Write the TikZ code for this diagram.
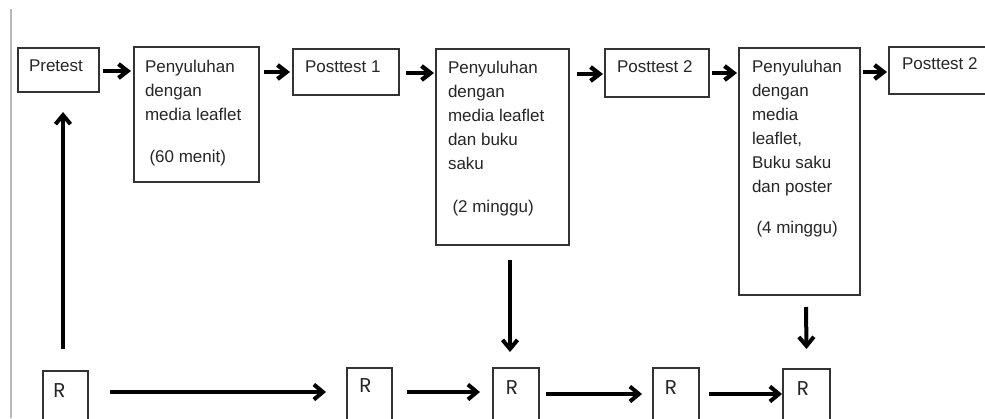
\documentclass[tikz,border=0pt]{standalone}
\usepackage{fontspec}
\setmainfont{Liberation Sans}
\newfontfamily\rfont{Poppins}
\usetikzlibrary{arrows.meta,calc}
\begin{document}
\begin{tikzpicture}[x=1pt,y=-1pt,
  box/.style={draw=black!80, line width=1.3pt, inner sep=0pt, outer sep=0pt, anchor=north west},
  txt/.style={inner sep=0pt, outer sep=0pt, anchor=north west, align=left, text=black!85, font=\fontsize{17}{24}\selectfont},
  rtxt/.style={inner sep=0pt, text=black!85, font=\rfont\fontsize{20}{22}\selectfont},
  arrT/.style={line width=4.3pt, -{Straight Barb[length=9pt,width=14pt]}},
  arrB/.style={line width=4pt, -{Straight Barb[length=9pt,width=15pt]}}]
\useasboundingbox (0,0) rectangle (985,418);
\clip (0,0) rectangle (985,418);
\fill[white] (0,0) rectangle (985,418);
\coordinate (gtop) at (11,9);
\coordinate (gbot) at (11,418);
\draw[gray!55, line width=1.5pt] (gtop) -- (gbot);
% top row boxes
\node[box, minimum width=81pt, minimum height=44pt] (Pre) at (18,48) {};
\node[box, minimum width=125pt, minimum height=135pt] (P1) at (134,47) {};
\node[box, minimum width=106pt, minimum height=46pt] (Po1) at (293,49) {};
\node[box, minimum width=133pt, minimum height=196pt] (P2) at (436,49) {};
\node[box, minimum width=104pt, minimum height=48pt] (Po2) at (605,49) {};
\node[box, minimum width=121pt, minimum height=247pt] (P3) at (739,48) {};
\node[box, minimum width=120pt, minimum height=47pt] (Po3) at (889,47) {};
% texts
\node[txt] (tPre) at (29,60) {Pretest};
\node[txt] (tP1) at (145,60) {Penyuluhan\\dengan\\media leaflet\\[18pt]\hspace*{4.5pt}(60 menit)};
\node[txt] (tPo1) at (305,61) {Posttest 1};
\node[txt] (tP2) at (448,61) {Penyuluhan\\dengan\\media leaflet\\dan buku\\saku\\[19pt]\hspace*{4.5pt}(2 minggu)};
\node[txt] (tPo2) at (617,61) {Posttest 2};
\node[txt] (tP3) at (752,60) {Penyuluhan\\dengan\\media\\leaflet,\\Buku saku\\dan poster\\[17pt]\hspace*{4.5pt}(4 minggu)};
\node[txt] (tPo3) at (902,58) {Posttest 2};
% bottom R boxes
\node[box, minimum width=45pt, minimum height=60pt] (R1) at (43,371) {};
\node[box, minimum width=45pt, minimum height=60pt] (R2) at (347,368) {};
\node[box, minimum width=46pt, minimum height=60pt] (R3) at (493,368) {};
\node[box, minimum width=46pt, minimum height=60pt] (R4) at (653,368) {};
\node[box, minimum width=47pt, minimum height=60pt] (R5) at (783,369) {};
\node[rtxt] (rR1) at (59.5,391) {R};
\node[rtxt] (rR2) at (365.5,386) {R};
\node[rtxt] (rR3) at (512,388) {R};
\node[rtxt] (rR4) at (671,388) {R};
\node[rtxt] (rR5) at (803,389) {R};
% top arrows
\draw[arrT] ($(Pre.east)+(4,1)$) -- ($(P1.north west)+(-3,24)$);
\draw[arrT] ($(P1.north east)+(5,25)$) -- ($(Po1.west)+(-3,0)$);
\draw[arrT] ($(Po1.east)+(7,1)$) -- ($(P2.north west)+(-2,24)$);
\draw[arrT] ($(P2.north east)+(8,25)$) -- ($(Po2.west)+(-2,1)$);
\draw[arrT] ($(Po2.east)+(3,0)$) -- ($(P3.north west)+(-2,25)$);
\draw[arrT] ($(P3.north east)+(3,24)$) -- ($(Po3.west)+(-2,1.5)$);
% vertical arrows
\draw[arrB] ($(R1.north)+(-2.5,-22)$) -- ($(Pre.south)+(4.5,20)$);
\draw[arrB] ($(P2.south)+(7.5,15)$) -- ($(R3.north)+(-6,-16)$);
\draw[arrB] ($(P3.south)+(6.5,12)$) -- ($(R5.north)+(0,-20)$);
% bottom arrows
\draw[arrB] ($(R1.north east)+(22,21)$) -- ($(R2.north west)+(-21,24)$);
\draw[arrB] ($(R2.north east)+(15,24)$) -- ($(R3.north west)+(-13,24)$);
\draw[arrB] ($(R3.north east)+(7,26)$) -- ($(R4.north west)+(-11,26)$);
\draw[arrB] ($(R4.north east)+(10,26)$) -- ($(R5.north west)+(-1,25)$);
\end{tikzpicture}
\end{document}
